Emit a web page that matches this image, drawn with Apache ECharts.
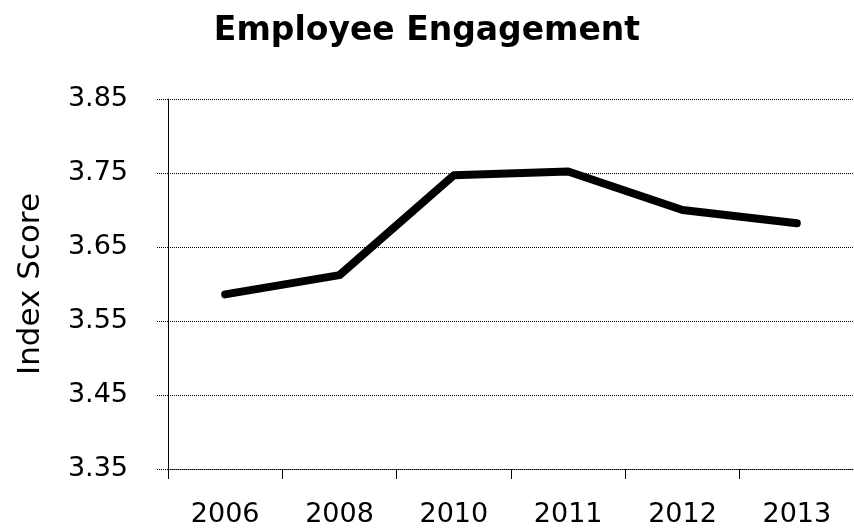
<!DOCTYPE html>
<html>
<head>
<meta charset="utf-8">
<script src="https://cdn.jsdelivr.net/npm/echarts@6/dist/echarts.min.js"></script>
<style>
  html, body { margin: 0; padding: 0; background: #fff; }
  #chart { width: 854px; height: 532px; }
</style>
</head>
<body>
<div id="chart"></div>
<script>
// Survey years and the engagement index for each
const years = ['2006', '2008', '2010', '2011', '2012', '2013'];
const indexScores = [3.586, 3.612, 3.747, 3.752, 3.700, 3.682];
// Value axis range and step
const yMin = 3.35;
const yMax = 3.85;
const yStep = 0.1;

const FONT = 'DejaVu Sans';
const chart = echarts.init(document.getElementById('chart'), null, { renderer: 'canvas' });

chart.setOption({
  backgroundColor: '#ffffff',
  animation: false,
  title: {
    text: 'Employee Engagement',
    left: 'center',
    top: 10,
    textStyle: { fontFamily: FONT, fontWeight: 'bold', fontSize: 33, color: '#000' }
  },
  grid: { left: 168, top: 99, width: 696, height: 370 },
  xAxis: {
    type: 'category',
    data: years,
    boundaryGap: true,
    axisLine: { show: true, lineStyle: { color: '#000', width: 1, type: 'dotted' } },
    axisTick: { show: true, alignWithLabel: false, length: 10, lineStyle: { color: '#000' } },
    axisLabel: { fontFamily: FONT, fontSize: 27, color: '#000', margin: 32 },
    splitLine: { show: false }
  },
  yAxis: {
    type: 'value',
    min: yMin,
    max: yMax,
    interval: yStep,
    name: 'Index Score',
    nameLocation: 'middle',
    nameGap: 122,
    nameRotate: 90,
    nameTextStyle: { fontFamily: FONT, fontSize: 31, color: '#000' },
    axisLine: { show: true, lineStyle: { color: '#000', width: 1 } },
    axisTick: { show: true, length: 12, lineStyle: { color: '#000', type: 'dotted' } },
    axisLabel: {
      fontFamily: FONT, fontSize: 27, color: '#000', margin: 40,
      formatter: v => v.toFixed(2)
    },
    splitLine: { show: true, lineStyle: { color: '#000', width: 1, type: 'dotted' } }
  },
  series: [{
    type: 'line',
    data: indexScores,
    showSymbol: false,
    symbol: 'none',
    lineStyle: { color: '#000', width: 8, cap: 'round', join: 'round' }
  }]
});
</script>
</body>
</html>
